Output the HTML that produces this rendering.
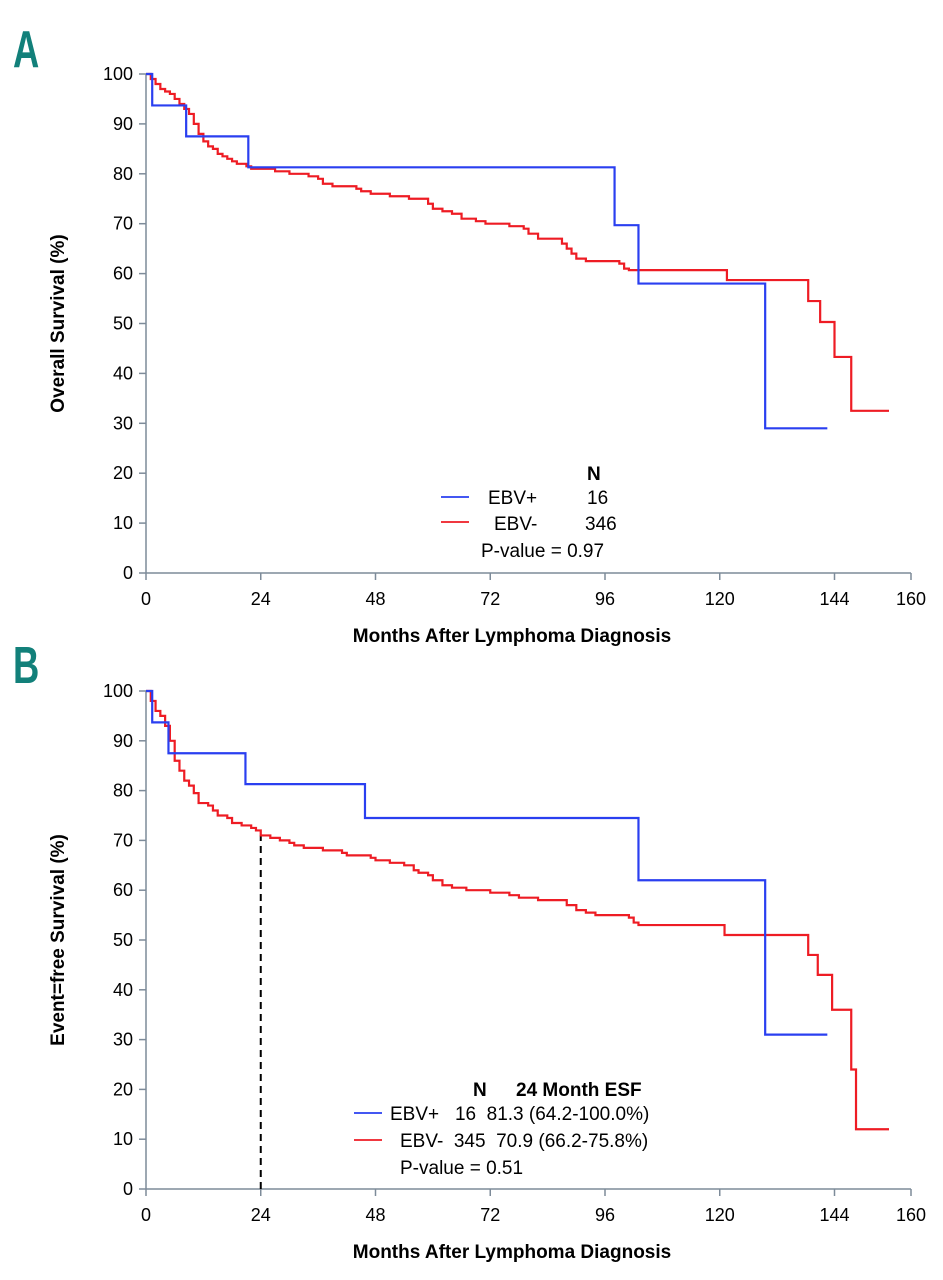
<!DOCTYPE html>
<html><head><meta charset="utf-8"><style>
body{margin:0;background:#fff;}
svg{display:block;font-family:"Liberation Sans",sans-serif;}
text{white-space:pre;}
</style></head><body>
<svg id="chart" width="943" height="1280" viewBox="0 0 943 1280"></svg>
<script>
const xTicks=[0,24,48,72,96,120,144,160];
const yTicks=[0,10,20,30,40,50,60,70,80,90,100];
const osBlueT=[0,1.3,8.4,21.4,98,103,129.5,142.5];
const osBlueS=[100,93.7,87.5,81.3,69.7,58,29,29];
const osRedT=[0,1,2,3,4,5,6,7,8,9,10,11,12,13,14,15,16,17,18,19,21,22,27,30,34,36,37,39,44,45,47,51,55,59,60,62,64,66,69,71,76,79,80,82,87,88,89,90,92,99,100,101,121.5,138.5,141,144,147.5,155.4];
const osRedS=[100,99,98,97,96.5,96,95,94,93,92,90,88,86.5,85.5,85,84,83.5,83,82.5,82,81.5,81,80.5,80,79.5,79,78,77.5,77,76.5,76,75.5,75,74,73,72.5,72,71,70.5,70,69.5,69,68,67,66,65,64,63,62.5,62,61,60.7,58.7,54.5,50.3,43.3,32.5,32.5];
const efsBlueT=[0,1.3,4.7,20.8,45.8,103,129.5,142.5];
const efsBlueS=[100,93.7,87.5,81.3,74.5,62,31,31];
const efsRedT=[0,1,2,3,4,5,6,7,8,9,10,11,13,14,15,17,18,20,22,23,24,26,28,30,31,33,37,41,42,47,48,51,54,56,57,59,60,62,64,67,72,76,78,82,88,90,92,94,101,102,103,121,138.5,140.5,143.5,147.5,148.5,155.4];
const efsRedS=[100,98,96,95,93,90,86,84,82,81,79.5,77.5,77,76,75,74.5,73.5,73,72.5,72,71,70.5,70,69.5,69,68.5,68,67.5,67,66.5,66,65.5,65,64,63.5,63,62,61,60.5,60,59.5,59,58.5,58,57,56,55.5,55,54.5,53.5,53,51,47,43,36,24,12,12];

const NS="http://www.w3.org/2000/svg";
const svg=document.getElementById('chart');
function mk(tag,attrs,parent){const e=document.createElementNS(NS,tag);for(const k in attrs)e.setAttribute(k,attrs[k]);(parent||svg).appendChild(e);return e;}

function panel(cfg){
  const g=mk('g',{});
  
  
  const x0=146,x1=911,y0=cfg.yBottom,y1=cfg.yTop;
  const sx=v=>x0+(x1-x0)*v/160;
  const sy=v=>y0-(y0-y1)*v/100;
  const axc='#7d8b99';
  const ya=mk('line',{x1:x0,y1:y1,x2:x0,y2:y0,stroke:axc,'stroke-width':1.5},g);
  
  
  const xa=mk('line',{x1:x0,y1:y0,x2:x1,y2:y0,stroke:axc,'stroke-width':1.5},g);
  
  
  yTicks.forEach(v=>{
    mk('line',{x1:x0-7,y1:sy(v),x2:x0,y2:sy(v),stroke:axc,'stroke-width':1.5},g);
    const t=mk('text',{x:x0-13,y:sy(v)+6,'text-anchor':'end','font-size':18,fill:'#000'},g);
    t.textContent=v;
    
    
  });
  xTicks.forEach(v=>{
    mk('line',{x1:sx(v),y1:y0,x2:sx(v),y2:y0+7,stroke:axc,'stroke-width':1.5},g);
    const t=mk('text',{x:sx(v),y:y0+32,'text-anchor':'middle','font-size':18,fill:'#000'},g);
    t.textContent=v;
    
    
  });
  const xt=mk('text',{x:512,y:y0+69,'text-anchor':'middle','font-size':19,'font-weight':'bold'},g);
  xt.textContent='Months After Lymphoma Diagnosis';
  
  
  const yc=(y0+y1)/2;
  const yt=mk('text',{x:64,y:yc,'text-anchor':'middle','font-size':19,'font-weight':'bold',transform:`rotate(-90 64 ${yc})`},g);
  yt.textContent=cfg.ytitle;
  
  
  const lt=mk('text',{x:0,y:0,'font-size':52,'font-weight':'bold',fill:'#12807a',transform:`translate(13 ${cfg.letterY}) scale(0.7,1)`},g);
  lt.textContent=cfg.letter;
  
  
  if(cfg.dash){
    const d=mk('line',{x1:sx(24),y1:sy(0),x2:sx(24),y2:sy(cfg.dash),stroke:'#000','stroke-width':2,'stroke-dasharray':'7,5'},g);
    
    
  }
  function step(T,S,color,name){
    let d=`M${sx(T[0])},${sy(S[0])}`;
    for(let i=1;i<T.length;i++){d+=` H${sx(T[i])} V${sy(S[i])}`;}
    const p=mk('path',{d:d,fill:'none',stroke:color,'stroke-width':2.2},g);
    
    
  }
  step(cfg.rT,cfg.rS,'#ee1c24','ebv-negative-curve');
  step(cfg.bT,cfg.bS,'#2a3ff0','ebv-positive-curve');
  cfg.legend(g);
}
function txt(g,x,y,s,name,bold){const t=mk('text',{x:x,y:y,'font-size':19,'font-weight':bold?'bold':'normal'},g);t.textContent=s;return t;}
function lline(g,x1,x2,y,c,name){const l=mk('line',{x1:x1,y1:y,x2:x2,y2:y,stroke:c,'stroke-width':1.8},g);}

panel({name:'panel-a-overall-survival',yTop:74,yBottom:573,ytitle:'Overall Survival (%)',letter:'A',letterY:67,
  bT:osBlueT,bS:osBlueS,rT:osRedT,rS:osRedS,
  legend:g=>{
    txt(g,587,480,'N','legend-n-header',true);
    lline(g,441,469,497,'#2a3ff0','legend-ebv-positive-line');
    txt(g,488,504,'EBV+','legend-ebv-positive-label');
    txt(g,587,504,'16','legend-ebv-positive-n');
    lline(g,441,469,522,'#ee1c24','legend-ebv-negative-line');
    txt(g,494,530,'EBV-','legend-ebv-negative-label');
    txt(g,585,530,'346','legend-ebv-negative-n');
    txt(g,481,557,'P-value = 0.97','p-value');
  }});
panel({name:'panel-b-event-free-survival',yTop:691,yBottom:1189,ytitle:'Event=free Survival (%)',letter:'B',letterY:683,dash:71,
  bT:efsBlueT,bS:efsBlueS,rT:efsRedT,rS:efsRedS,
  legend:g=>{
    txt(g,473,1096,'N','legend-n-header',true);
    txt(g,516,1096,'24 Month ESF','legend-esf-header',true);
    lline(g,354,382,1113,'#2a3ff0','legend-ebv-positive-line');
    txt(g,390,1120,'EBV+   16  81.3 (64.2-100.0%)','legend-ebv-positive-label');
    lline(g,354,382,1140,'#ee1c24','legend-ebv-negative-line');
    txt(g,400,1147,'EBV-  345  70.9 (66.2-75.8%)','legend-ebv-negative-label');
    txt(g,400,1174,'P-value = 0.51','p-value');
  }});
</script>
</body></html>
